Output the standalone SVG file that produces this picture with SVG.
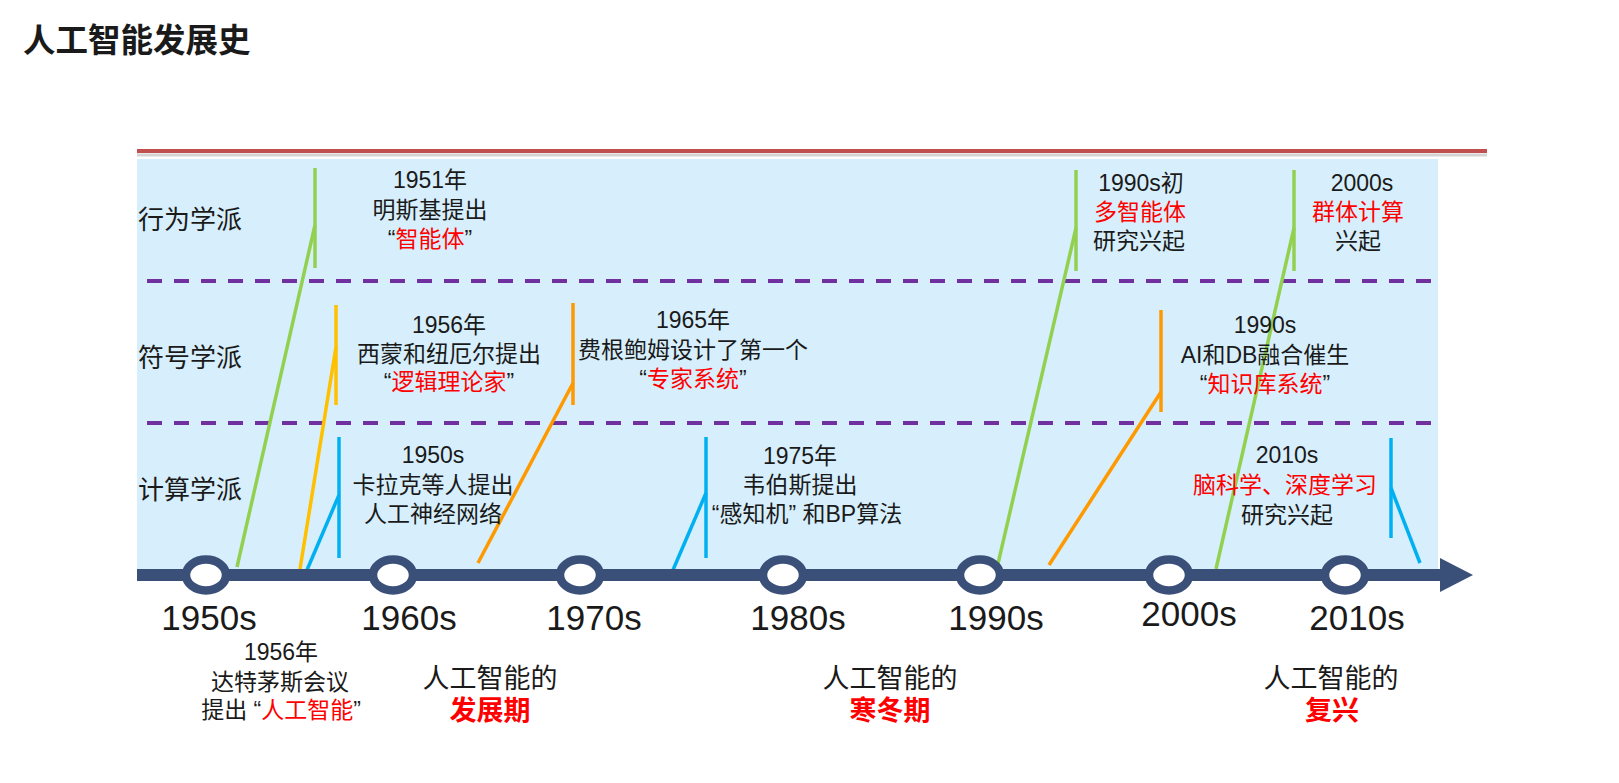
<svg xmlns="http://www.w3.org/2000/svg" width="1619" height="783" viewBox="0 0 1619 783">
<style>
text{font-family:"Liberation Sans","Noto Sans CJK SC",sans-serif;fill:#1a1a1a}
.t{font-size:23px;text-anchor:middle}
.lane{font-size:26px}
.dec{font-size:35px;text-anchor:middle}
.era{font-size:27px;text-anchor:middle}
.r{fill:#ff0000}
.b{font-weight:bold}
.dash{stroke:#7030a0;stroke-width:4;stroke-dasharray:15 12;fill:none}
.g{stroke:#92d050;stroke-width:3.5;fill:none}
.y{stroke:#ffc000;stroke-width:3.5;fill:none}
.o{stroke:#ff9900;stroke-width:3.5;fill:none}
.bl{stroke:#00b0f0;stroke-width:3.5;fill:none}
.node{fill:#ffffff;stroke:#3b5079;stroke-width:8.5}
</style>
<rect width="1619" height="783" fill="#ffffff"/>
<text x="23" y="52" font-size="32.5" class="b" fill="#262626">人工智能发展史</text>
<line x1="137" y1="155" x2="1487" y2="155" stroke="#aaaaaa" stroke-width="3" opacity="0.5"/>
<line x1="137" y1="151" x2="1487" y2="151" stroke="#c0504d" stroke-width="4"/>
<rect x="137" y="159" width="1301" height="416" fill="#d7effc"/>
<line class="dash" x1="147" y1="281" x2="1432" y2="281"/>
<line class="dash" x1="147" y1="423" x2="1432" y2="423"/>
<g id="lanes">
<text class="lane" x="138" y="229">行为学派</text>
<text class="lane" x="138" y="367">符号学派</text>
<text class="lane" x="138" y="499">计算学派</text>
</g>
<g id="connectors">
<polyline class="g" points="237,567 315,225"/><line class="g" x1="315" y1="168" x2="315" y2="268"/>
<polyline class="y" points="300,569 336,347"/><line class="y" x1="336" y1="305" x2="336" y2="405"/>
<polyline class="bl" points="307,570 339,495"/><line class="bl" x1="339" y1="437" x2="339" y2="558"/>
<polyline class="o" points="478,563 573,383"/><line class="o" x1="573" y1="303" x2="573" y2="405"/>
<polyline class="bl" points="673,570 706,493"/><line class="bl" x1="706" y1="437" x2="706" y2="558"/>
<polyline class="g" points="997,568 1076,228"/><line class="g" x1="1076" y1="170" x2="1076" y2="271"/>
<polyline class="o" points="1049,565 1161,392"/><line class="o" x1="1161" y1="310" x2="1161" y2="412"/>
<polyline class="g" points="1216,569 1294,228"/><line class="g" x1="1294" y1="170" x2="1294" y2="271"/>
<line class="bl" x1="1391" y1="438" x2="1391" y2="538"/><polyline class="bl" points="1391,488 1420,563"/>
</g>
<g id="axis">
<line x1="137" y1="575" x2="1442" y2="575" stroke="#3b5079" stroke-width="12"/>
<polygon points="1440,558 1473,575 1440,592" fill="#3b5079"/>
</g>
<g id="n1950"><ellipse class="node" cx="206" cy="575" rx="20" ry="15.5"/><text class="dec" x="209" y="630">1950s</text></g>
<g id="n1960"><ellipse class="node" cx="393" cy="575" rx="20" ry="15.5"/><text class="dec" x="409" y="630">1960s</text></g>
<g id="n1970"><ellipse class="node" cx="580" cy="575" rx="20" ry="15.5"/><text class="dec" x="594" y="630">1970s</text></g>
<g id="n1980"><ellipse class="node" cx="783" cy="575" rx="20" ry="15.5"/><text class="dec" x="798" y="630">1980s</text></g>
<g id="n1990"><ellipse class="node" cx="980" cy="575" rx="20" ry="15.5"/><text class="dec" x="996" y="630">1990s</text></g>
<g id="n2000"><ellipse class="node" cx="1169" cy="575" rx="20" ry="15.5"/><text class="dec" x="1189" y="626">2000s</text></g>
<g id="n2010"><ellipse class="node" cx="1345" cy="575" rx="20" ry="15.5"/><text class="dec" x="1357" y="630">2010s</text></g>
<g id="e1951">
<text class="t" x="430" y="188">1951年</text>
<text class="t" x="430" y="218">明斯基提出</text>
<text class="t" x="430" y="247">“<tspan class="r">智能体</tspan>”</text>
</g>
<g id="e1956s">
<text class="t" x="449" y="333">1956年</text>
<text class="t" x="449" y="362">西蒙和纽厄尔提出</text>
<text class="t" x="449" y="390">“<tspan class="r">逻辑理论家</tspan>”</text>
</g>
<g id="e1950s">
<text class="t" x="433" y="463">1950s</text>
<text class="t" x="433" y="493">卡拉克等人提出</text>
<text class="t" x="433" y="522">人工神经网络</text>
</g>
<g id="e1965">
<text class="t" x="693" y="328">1965年</text>
<text class="t" x="693" y="358">费根鲍姆设计了第一个</text>
<text class="t" x="693" y="387">“<tspan class="r">专家系统</tspan>”</text>
</g>
<g id="e1975">
<text class="t" x="800" y="464">1975年</text>
<text class="t" x="800" y="493">韦伯斯提出</text>
<text class="t" x="807" y="522">“感知机”  和BP算法</text>
</g>
<g id="e1990a">
<text class="t" x="1141" y="191">1990s初</text>
<text class="t r" x="1140" y="220">多智能体</text>
<text class="t" x="1139" y="249">研究兴起</text>
</g>
<g id="e2000">
<text class="t" x="1362" y="191">2000s</text>
<text class="t r" x="1358" y="220">群体计算</text>
<text class="t" x="1358" y="249">兴起</text>
</g>
<g id="e1990b">
<text class="t" x="1265" y="333">1990s</text>
<text class="t" x="1265" y="363">AI和DB融合催生</text>
<text class="t" x="1265" y="392">“<tspan class="r">知识库系统</tspan>”</text>
</g>
<g id="e2010">
<text class="t" x="1287" y="463">2010s</text>
<text class="t r" x="1285" y="493">脑科学、深度学习</text>
<text class="t" x="1287" y="523">研究兴起</text>
</g>
<g id="e1956d">
<text class="t" x="281" y="660">1956年</text>
<text class="t" x="280" y="690">达特茅斯会议</text>
<text class="t" x="281" y="718" xml:space="preserve">提出 “<tspan class="r">人工智能</tspan>”</text>
</g>
<g id="era1">
<text class="era" x="490" y="688">人工智能的</text>
<text class="era r b" x="490" y="720">发展期</text>
</g>
<g id="era2">
<text class="era" x="890" y="688">人工智能的</text>
<text class="era r b" x="890" y="720">寒冬期</text>
</g>
<g id="era3">
<text class="era" x="1331" y="688">人工智能的</text>
<text class="era r b" x="1332" y="720">复兴</text>
</g>
</svg>
